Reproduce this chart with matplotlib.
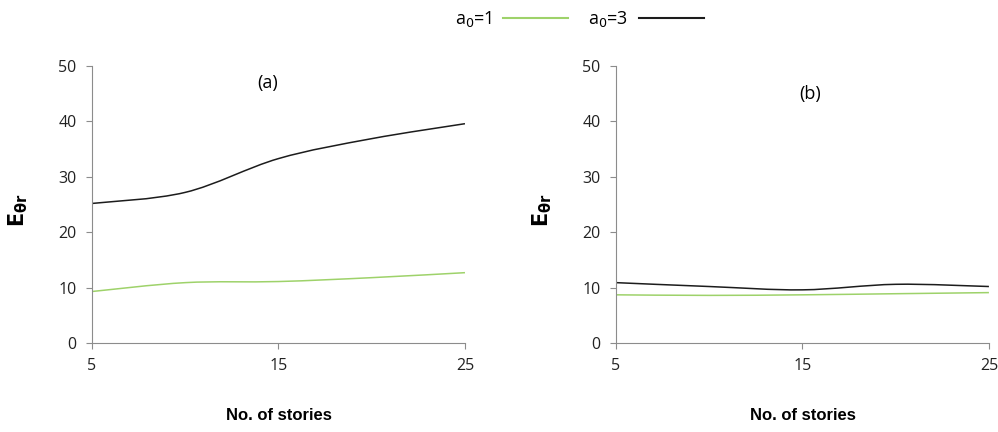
import matplotlib
matplotlib.use("Agg")
import matplotlib.pyplot as plt
from matplotlib.path import Path
from matplotlib.patches import PathPatch
from matplotlib.lines import Line2D

plt.rcParams["font.family"] = ["Open Sans", "DejaVu Sans"]

stories = [5, 10, 15, 20, 25]
a_one = [9.3, 10.9, 11.1, 11.8, 12.7]
a_three = [25.2, 27.2, 33.3, 36.9, 39.6]
b_one = [8.7, 8.6, 8.7, 8.9, 9.1]
b_three = [10.9, 10.2, 9.6, 10.6, 10.2]

GREEN = "#9ed26a"
BLACK = "#1c1c1c"
GREY = "#8c8c8c"


def smooth(ax, xs, ys, colour):
    # Excel-style smoothed line: cubic Bezier through each point
    n = len(xs)
    verts = [(xs[0], ys[0])]
    codes = [Path.MOVETO]
    for i in range(n - 1):
        x0, y0 = (xs[i - 1], ys[i - 1]) if i > 0 else (xs[i], ys[i])
        x3, y3 = (xs[i + 2], ys[i + 2]) if i + 2 < n else (xs[i + 1], ys[i + 1])
        c1 = (xs[i] + (xs[i + 1] - x0) / 6, ys[i] + (ys[i + 1] - y0) / 6)
        c2 = (xs[i + 1] - (x3 - xs[i]) / 6, ys[i + 1] - (y3 - ys[i]) / 6)
        verts += [c1, c2, (xs[i + 1], ys[i + 1])]
        codes += [Path.CURVE4] * 3
    ax.add_patch(PathPatch(Path(verts, codes), fill=False, ec=colour, lw=1.1))


fig = plt.figure(figsize=(9.98, 4.32), dpi=100)
panels = [
    (0.0922, "(a)", 0.47, 0.94, a_one, a_three),
    (0.6172, "(b)", 0.52, 0.90, b_one, b_three),
]
for left, tag, tx, ty, g, k in panels:
    ax = fig.add_axes([left, 0.206, 0.3737, 0.641])
    smooth(ax, stories, g, GREEN)
    smooth(ax, stories, k, BLACK)
    ax.set_xlim(5, 25)
    ax.set_ylim(0, 50)
    ax.set_xticks([5, 15, 25])
    ax.set_yticks(range(0, 51, 10))
    for s in ("top", "right"):
        ax.spines[s].set_visible(False)
    for s in ("left", "bottom"):
        ax.spines[s].set_color(GREY)
    ax.tick_params(colors=GREY, labelcolor="#222222", labelsize=11.5,
                   length=4, direction="out")
    ax.tick_params(axis="x", pad=7)
    ax.tick_params(axis="y", pad=7)
    ax.set_xlabel("No. of stories", fontsize=12, fontweight="bold",
                  family=["Liberation Sans"])
    ax.xaxis.set_label_coords(0.5, -0.235)
    ax.set_ylabel(r"$\mathbf{E}_{\mathbf{\theta r}}$", fontsize=15)
    ax.yaxis.set_label_coords(-0.165, 0.48)
    ax.text(tx, ty, tag, transform=ax.transAxes, fontsize=13,
            ha="center", va="center")

handles = [Line2D([], [], color=GREEN, lw=1.5), Line2D([], [], color=BLACK, lw=1.5)]
fig.legend(handles, [r"a$_0$=1", r"a$_0$=3"], loc="center",
           bbox_to_anchor=(0.581, 0.955), ncol=2, frameon=False,
           markerfirst=False, handlelength=3.6, fontsize=13, columnspacing=1.1,
           handletextpad=0.6)

fig.savefig("out.png", dpi=100)
